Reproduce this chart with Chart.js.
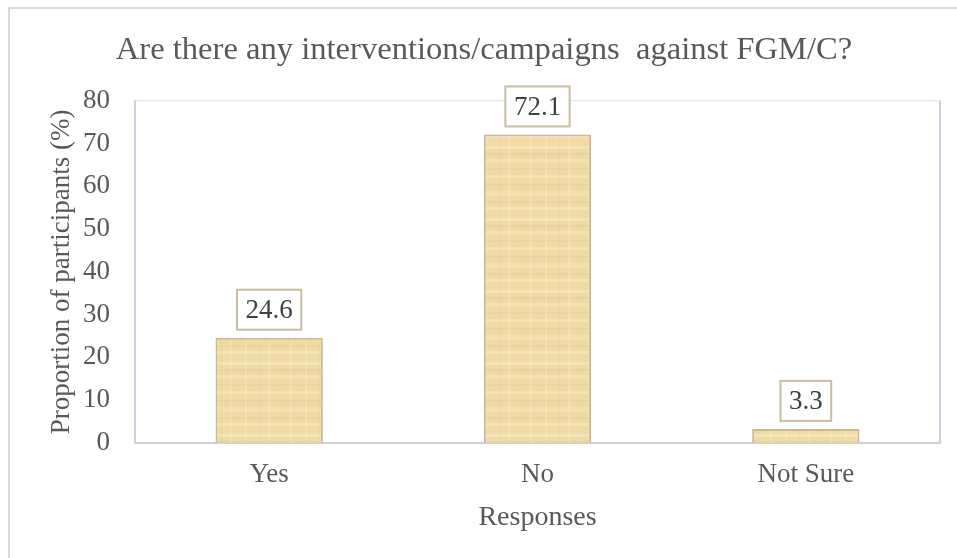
<!DOCTYPE html>
<html>
<head>
<meta charset="utf-8">
<script src="https://cdn.jsdelivr.net/npm/chart.js@4/dist/chart.umd.min.js"></script>
<style>
  html, body { margin: 0; padding: 0; background: #ffffff; }
  #wrap { width: 957px; height: 558px; position: relative; }
</style>
</head>
<body>
<div id="wrap"><canvas id="c" width="957" height="558"></canvas></div>
<script>
// Survey responses (% of participants)
const categories = ['Yes', 'No', 'Not Sure'];
const proportions = [24.6, 72.1, 3.3];
const yTicks = [0, 10, 20, 30, 40, 50, 60, 70, 80];

const SERIF = '"Liberation Serif", "Times New Roman", serif';
const TEXT = '#595959';

// Papyrus-like fill: warm tan base with soft fibre bands
function papyrusPattern(ctx) {
  const p = document.createElement('canvas');
  p.width = 60; p.height = 72;
  const g = p.getContext('2d');
  g.fillStyle = '#efd9a4';
  g.fillRect(0, 0, 60, 72);
  // horizontal bands [y, height, colour]
  const bands = [
    [2, 3, 'rgba(255,248,225,0.35)'], [9, 2, 'rgba(200,160,90,0.09)'],
    [15, 4, 'rgba(255,246,220,0.28)'], [24, 2, 'rgba(200,160,90,0.08)'],
    [31, 3, 'rgba(255,248,225,0.32)'], [40, 2, 'rgba(195,155,85,0.09)'],
    [47, 5, 'rgba(255,246,220,0.24)'], [57, 2, 'rgba(200,160,90,0.08)'],
    [63, 3, 'rgba(255,248,225,0.32)']
  ];
  bands.forEach(([y, h, c]) => { g.fillStyle = c; g.fillRect(0, y, 60, h); });
  // vertical fibres [x, width, colour]
  const fibres = [
    [5, 2, 'rgba(255,250,232,0.22)'], [19, 1, 'rgba(200,160,90,0.08)'],
    [28, 3, 'rgba(255,250,232,0.18)'], [41, 1, 'rgba(200,160,90,0.08)'],
    [50, 2, 'rgba(255,250,232,0.22)']
  ];
  fibres.forEach(([x, w, c]) => { g.fillStyle = c; g.fillRect(x, 0, w, 72); });
  return ctx.createPattern(p, 'repeat');
}

// Outer frame and plot-area border
const framePlugin = {
  id: 'frame',
  beforeDraw(chart) {
    const ctx = chart.ctx;
    ctx.save();
    ctx.fillStyle = '#ffffff';
    ctx.fillRect(0, 0, chart.width, chart.height);
    ctx.strokeStyle = '#d9d9d9';
    ctx.lineWidth = 2;
    ctx.beginPath();
    ctx.moveTo(9, chart.height + 2);
    ctx.lineTo(9, 8);
    ctx.lineTo(chart.width + 2, 8);
    ctx.stroke();
    ctx.restore();
  },
  beforeDatasetsDraw(chart) {
    const a = chart.chartArea;
    const ctx = chart.ctx;
    ctx.save();
    ctx.strokeStyle = '#e8eaf3';
    ctx.lineWidth = 1.5;
    ctx.strokeRect(a.left, a.top, a.right - a.left, a.bottom - a.top);
    ctx.strokeStyle = '#ccd0e2';
    ctx.lineWidth = 2;
    ctx.beginPath();
    ctx.moveTo(a.left, a.top);
    ctx.lineTo(a.left, a.bottom);
    ctx.lineTo(a.right, a.bottom);
    ctx.lineTo(a.right, a.top);
    ctx.stroke();
    ctx.restore();
  }
};

// Boxed value labels above each bar
const boxLabelPlugin = {
  id: 'boxLabels',
  afterDatasetsDraw(chart) {
    const ctx = chart.ctx;
    const meta = chart.getDatasetMeta(0);
    const values = chart.data.datasets[0].data;
    ctx.save();
    ctx.font = '27px ' + SERIF;
    ctx.textAlign = 'center';
    ctx.textBaseline = 'middle';
    meta.data.forEach((bar, i) => {
      const txt = values[i].toFixed(1);
      const w = ctx.measureText(txt).width + 17;
      const h = 40;
      const bottom = bar.y - 8;
      const x0 = bar.x - w / 2;
      const y0 = bottom - h;
      ctx.fillStyle = '#ffffff';
      ctx.fillRect(x0, y0, w, h);
      ctx.strokeStyle = '#c9bf9f';
      ctx.lineWidth = 2;
      ctx.strokeRect(x0, y0, w, h);
      ctx.fillStyle = '#404040';
      ctx.fillText(txt, bar.x, y0 + h / 2 + 1);
    });
    ctx.restore();
  }
};

const ctx = document.getElementById('c').getContext('2d');

new Chart(ctx, {
  type: 'bar',
  data: {
    labels: categories,
    datasets: [{
      data: proportions,
      backgroundColor: papyrusPattern(ctx),
      borderColor: '#cdb98f',
      borderWidth: 2,
      barPercentage: 0.4,
      categoryPercentage: 1.0
    }]
  },
  options: {
    responsive: false,
    animation: false,
    layout: { padding: { left: 28, right: 17, top: 0, bottom: 0 } },
    plugins: {
      legend: { display: false },
      tooltip: { enabled: false },
      title: {
        display: true,
        text: 'Are there any interventions/campaigns  against FGM/C?',
        color: TEXT,
        font: { family: SERIF, size: 32.6, weight: 'normal' },
        padding: { top: 31, bottom: 30.5 }
      }
    },
    scales: {
      x: {
        grid: { display: false, drawTicks: false },
        border: { display: false },
        ticks: { color: TEXT, font: { family: SERIF, size: 27 }, padding: 16 },
        title: {
          display: true,
          text: 'Responses',
          color: TEXT,
          font: { family: SERIF, size: 28 },
          padding: { top: 0, bottom: 24 }
        },
        afterFit(scale) { scale.height = 115; }
      },
      y: {
        min: 0,
        max: 80,
        afterBuildTicks(scale) { scale.ticks = yTicks.map(v => ({ value: v })); },
        grid: { display: false, drawTicks: false },
        border: { display: false },
        ticks: { color: TEXT, font: { family: SERIF, size: 27 }, padding: 25 },
        title: {
          display: true,
          text: 'Proportion of participants (%)',
          color: TEXT,
          font: { family: SERIF, size: 27 },
          padding: { top: 18, bottom: 0 }
        },
        afterFit(scale) { scale.width = 107; }
      }
    }
  },
  plugins: [framePlugin, boxLabelPlugin]
});
</script>
</body>
</html>
